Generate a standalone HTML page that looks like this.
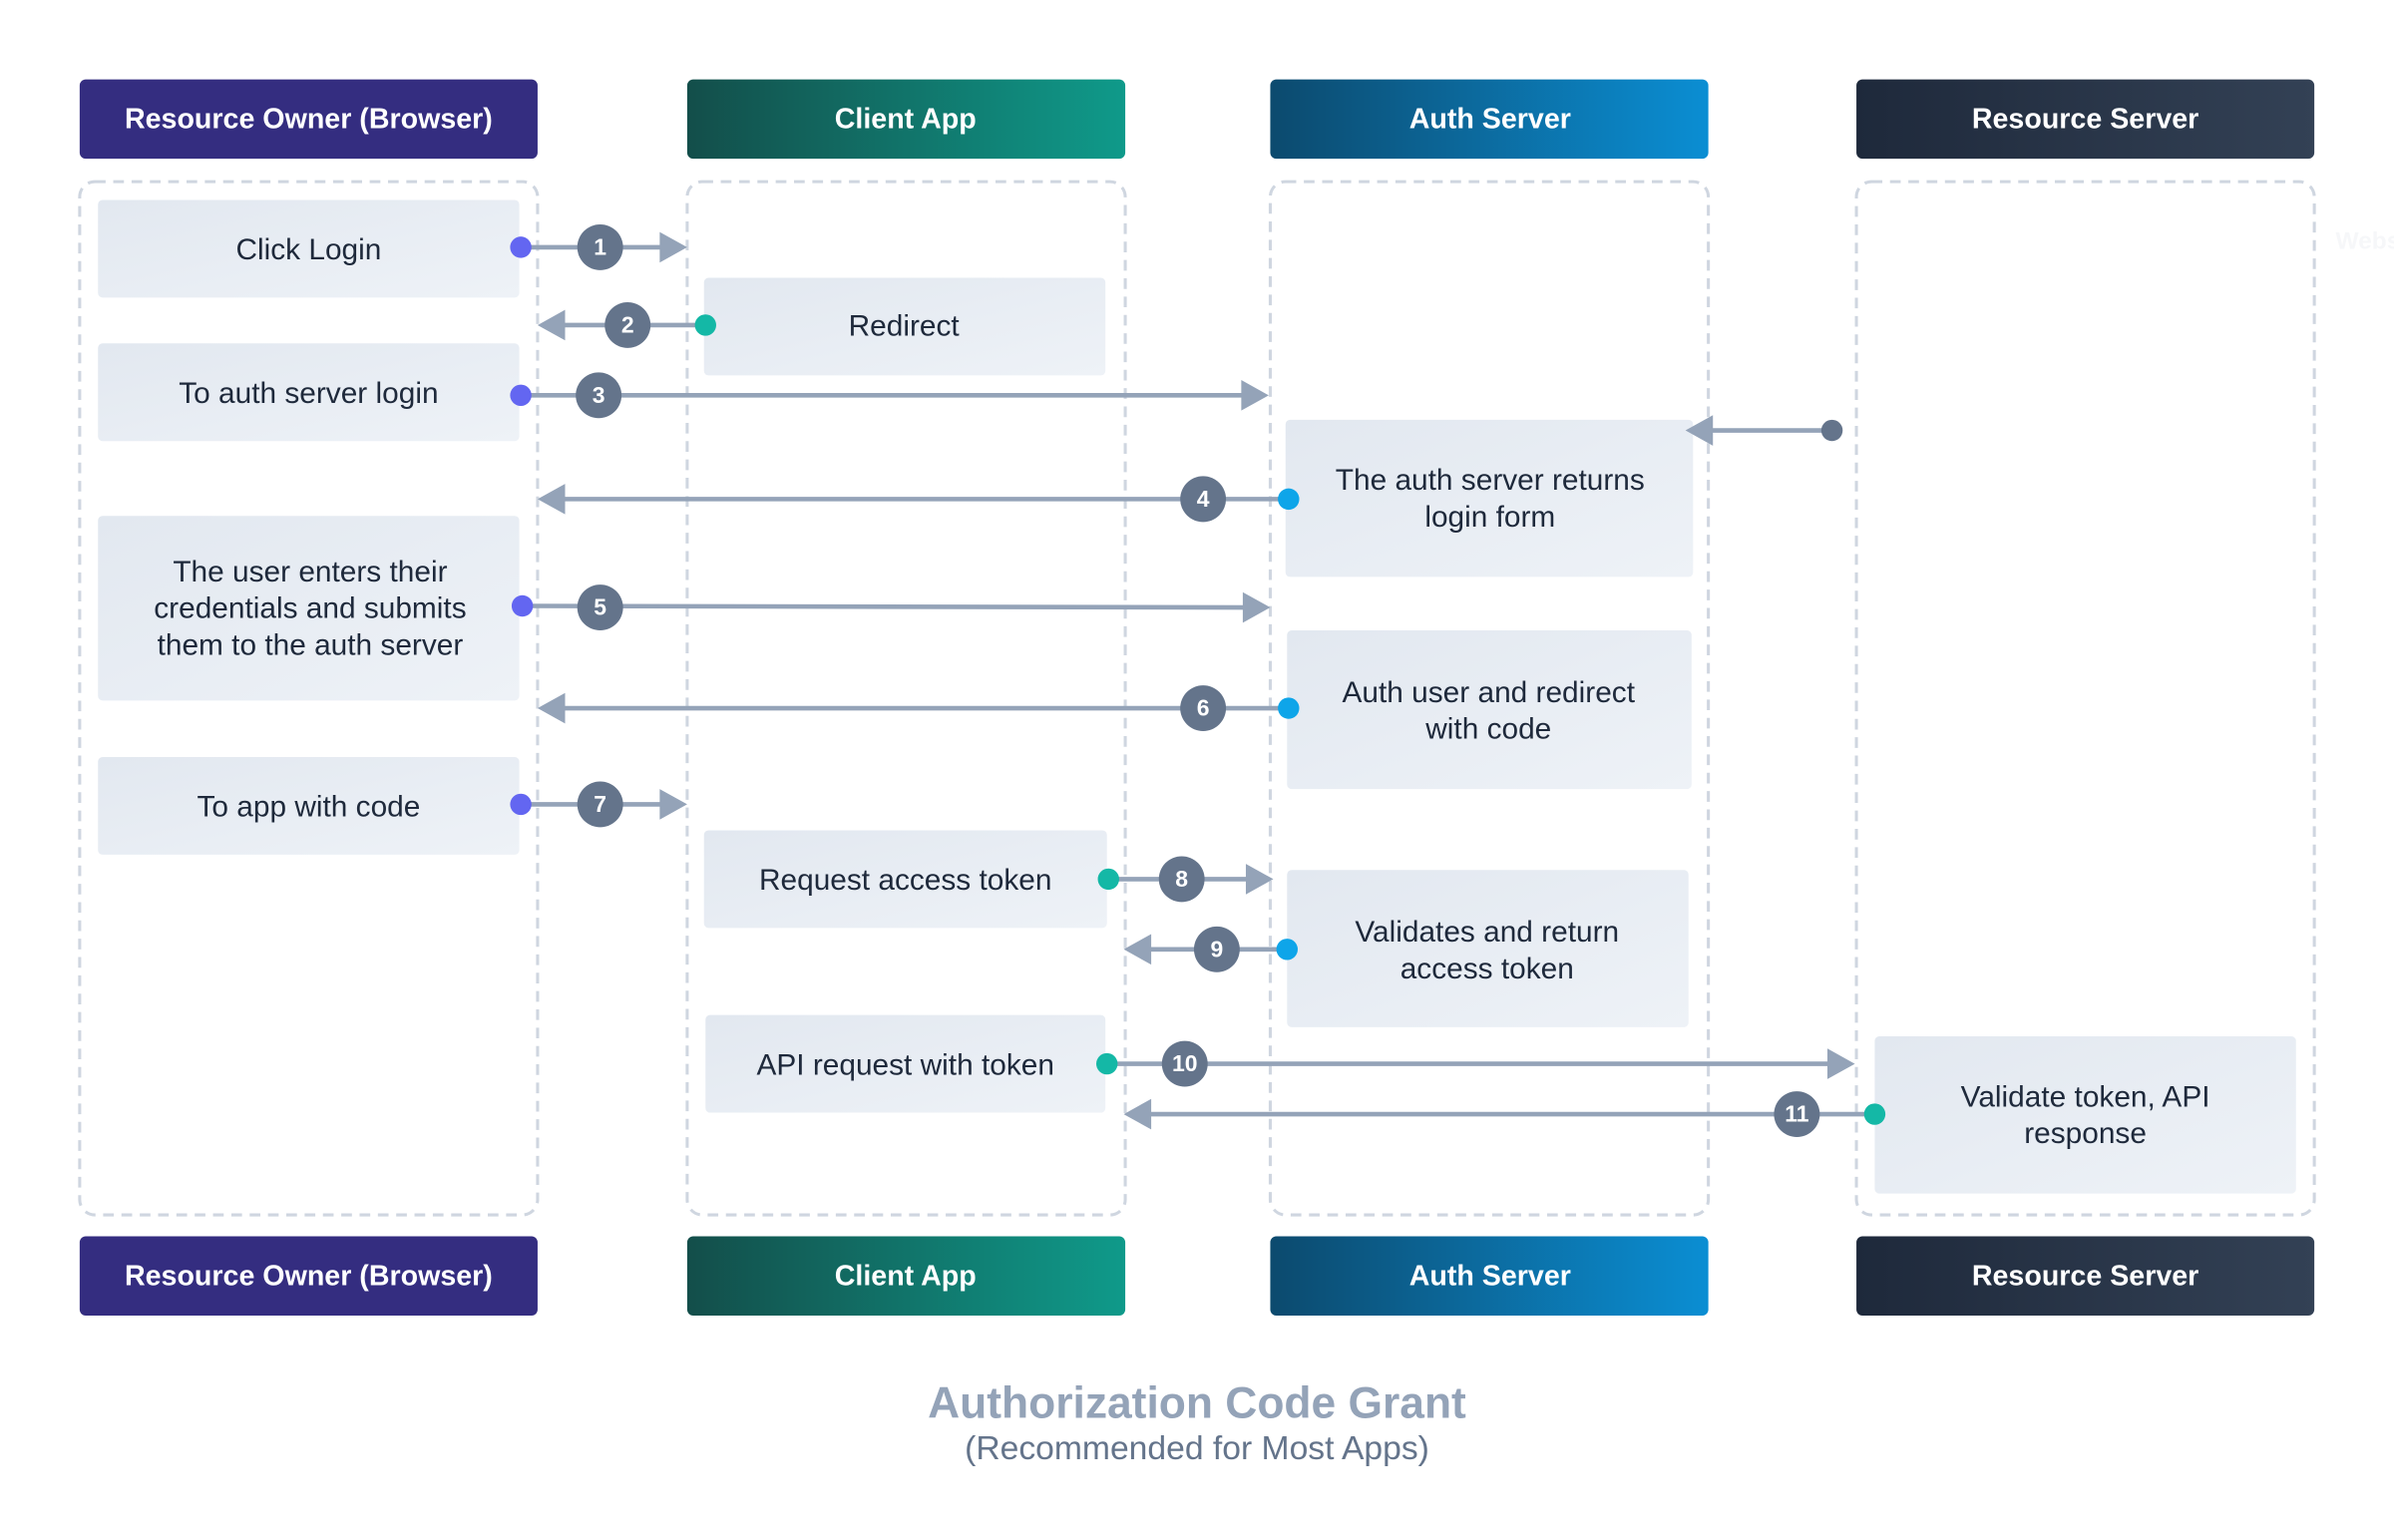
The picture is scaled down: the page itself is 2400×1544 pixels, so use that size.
<!DOCTYPE html>
<html><head><meta charset="utf-8"><style>
html,body{margin:0;padding:0;background:#fff}
svg{display:block}
text{font-family:"Liberation Sans",sans-serif}
</style></head><body>
<svg width="2400" height="1544" viewBox="0 0 1568 1009" xmlns="http://www.w3.org/2000/svg">
<defs>
<linearGradient id="gc" x1="0" x2="1"><stop offset="0" stop-color="#134e4a"/><stop offset="1" stop-color="#0f9a8a"/></linearGradient>
<linearGradient id="ga" x1="0" x2="1"><stop offset="0" stop-color="#0c4a6e"/><stop offset="1" stop-color="#0b8ed3"/></linearGradient>
<linearGradient id="gr" x1="0" x2="1"><stop offset="0" stop-color="#1e293b"/><stop offset="1" stop-color="#334155"/></linearGradient>
<linearGradient id="gb" x1="0" y1="0" x2="1" y2="1"><stop offset="0" stop-color="#e2e8f0"/><stop offset="1" stop-color="#eef2f7"/></linearGradient>
</defs>
<g fill="none" stroke="#cfd6e0" stroke-width="2" stroke-dasharray="7 5">
<rect x="52" y="119" width="300" height="677" rx="10"/>
<rect x="450" y="119" width="287" height="677" rx="10"/>
<rect x="832" y="119" width="287" height="677" rx="10"/>
<rect x="1216" y="119" width="300" height="677" rx="10"/>
</g>
<g font-size="18.7" font-weight="bold" fill="#fff" text-anchor="middle">
<rect x="52" y="52" width="300" height="52" rx="4" fill="#342d80"/><text x="202" y="84">Resource Owner (Browser)</text>
<rect x="450" y="52" width="287" height="52" rx="4" fill="url(#gc)"/><text x="593" y="84">Client App</text>
<rect x="832" y="52" width="287" height="52" rx="4" fill="url(#ga)"/><text x="976" y="84">Auth Server</text>
<rect x="1216" y="52" width="300" height="52" rx="4" fill="url(#gr)"/><text x="1366" y="84">Resource Server</text>
<rect x="52" y="810" width="300" height="52" rx="4" fill="#342d80"/><text x="202" y="842">Resource Owner (Browser)</text>
<rect x="450" y="810" width="287" height="52" rx="4" fill="url(#gc)"/><text x="593" y="842">Client App</text>
<rect x="832" y="810" width="287" height="52" rx="4" fill="url(#ga)"/><text x="976" y="842">Auth Server</text>
<rect x="1216" y="810" width="300" height="52" rx="4" fill="url(#gr)"/><text x="1366" y="842">Resource Server</text>
</g>
<g fill="url(#gb)">
<rect x="64" y="131" width="276" height="64" rx="3"/>
<rect x="461" y="182" width="263" height="64" rx="3"/>
<rect x="64" y="225" width="276" height="64" rx="3"/>
<rect x="842" y="275" width="267" height="103" rx="3"/>
<rect x="64" y="338" width="276" height="121" rx="3"/>
<rect x="843" y="413" width="265" height="104" rx="3"/>
<rect x="64" y="496" width="276" height="64" rx="3"/>
<rect x="461" y="544" width="264" height="64" rx="3"/>
<rect x="843" y="570" width="263" height="103" rx="3"/>
<rect x="462" y="665" width="262" height="64" rx="3"/>
<rect x="1228" y="679" width="276" height="103" rx="3"/>
</g>
<g font-size="19.5" fill="#1e293b" text-anchor="middle">
<text x="202" y="170">Click Login</text>
<text x="592" y="220">Redirect</text>
<text x="202" y="264">To auth server login</text>
<text x="976" y="321">The auth server returns</text><text x="976" y="345">login form</text>
<text x="203" y="381">The user enters their</text><text x="203" y="405">credentials and submits</text><text x="203" y="429">them to the auth server</text>
<text x="975" y="460">Auth user and redirect</text><text x="975" y="484">with code</text>
<text x="202" y="535">To app with code</text>
<text x="593" y="583">Request access token</text>
<text x="974" y="617">Validates and return</text><text x="974" y="641">access token</text>
<text x="593" y="704">API request with token</text>
<text x="1366" y="725">Validate token, API</text><text x="1366" y="749">response</text>
</g>
<g stroke="#94a3b8" stroke-width="3">
<line x1="341" y1="162" x2="434" y2="162"/>
<line x1="462" y1="213" x2="368" y2="213"/>
<line x1="341" y1="259" x2="815" y2="259"/>
<line x1="1200" y1="282" x2="1120" y2="282"/>
<line x1="844" y1="327" x2="368" y2="327"/>
<line x1="342" y1="397" x2="816" y2="398"/>
<line x1="844" y1="464" x2="368" y2="464"/>
<line x1="341" y1="527" x2="434" y2="527"/>
<line x1="726" y1="576" x2="818" y2="576"/>
<line x1="843" y1="622" x2="752" y2="622"/>
<line x1="725" y1="697" x2="1199" y2="697"/>
<line x1="1228" y1="730" x2="752" y2="730"/>
</g>
<g fill="#94a3b8">
<polygon points="450,162 432,152 432,172"/>
<polygon points="352,213 370,203 370,223"/>
<polygon points="831,259 813,249 813,269"/>
<polygon points="1104,282 1122,272 1122,292"/>
<polygon points="352,327 370,317 370,337"/>
<polygon points="832,398 814,388 814,408"/>
<polygon points="352,464 370,454 370,474"/>
<polygon points="450,527 432,517 432,537"/>
<polygon points="834,576 816,566 816,586"/>
<polygon points="736,622 754,612 754,632"/>
<polygon points="1215,697 1197,687 1197,707"/>
<polygon points="736,730 754,720 754,740"/>
</g>
<g>
<circle cx="341" cy="162" r="7" fill="#6366f1"/>
<circle cx="462" cy="213" r="7" fill="#14b8a6"/>
<circle cx="341" cy="259" r="7" fill="#6366f1"/>
<circle cx="1200" cy="282" r="7" fill="#64748b"/>
<circle cx="844" cy="327" r="7" fill="#0ea5e9"/>
<circle cx="342" cy="397" r="7" fill="#6366f1"/>
<circle cx="844" cy="464" r="7" fill="#0ea5e9"/>
<circle cx="341" cy="527" r="7" fill="#6366f1"/>
<circle cx="726" cy="576" r="7" fill="#14b8a6"/>
<circle cx="843" cy="622" r="7" fill="#0ea5e9"/>
<circle cx="725" cy="697" r="7" fill="#14b8a6"/>
<circle cx="1228" cy="730" r="7" fill="#14b8a6"/>
</g>
<g fill="#64748b">
<circle cx="393" cy="162" r="15"/><circle cx="411" cy="213" r="15"/><circle cx="392" cy="259" r="15"/>
<circle cx="788" cy="327" r="15"/><circle cx="393" cy="398" r="15"/><circle cx="788" cy="464" r="15"/>
<circle cx="393" cy="527" r="15"/><circle cx="774" cy="576" r="15"/><circle cx="797" cy="622" r="15"/>
<circle cx="776" cy="697" r="15"/><circle cx="1177" cy="730" r="15"/>
</g>
<g font-size="15" font-weight="bold" fill="#fff" text-anchor="middle">
<text x="393" y="167">1</text><text x="411" y="218">2</text><text x="392" y="264">3</text>
<text x="788" y="332">4</text><text x="393" y="403">5</text><text x="788" y="469">6</text>
<text x="393" y="532">7</text><text x="774" y="581">8</text><text x="797" y="627">9</text>
<text x="776" y="702">10</text><text x="1177" y="735">11</text>
</g>
<text x="1530" y="163" font-size="16" font-weight="bold" fill="#f6f7f9">Website</text>
<text x="784" y="929" font-size="29" font-weight="bold" fill="#94a3b8" text-anchor="middle">Authorization Code Grant</text>
<text x="784" y="956" font-size="22" fill="#64748b" text-anchor="middle">(Recommended for Most Apps)</text>
</svg>
</body></html>
